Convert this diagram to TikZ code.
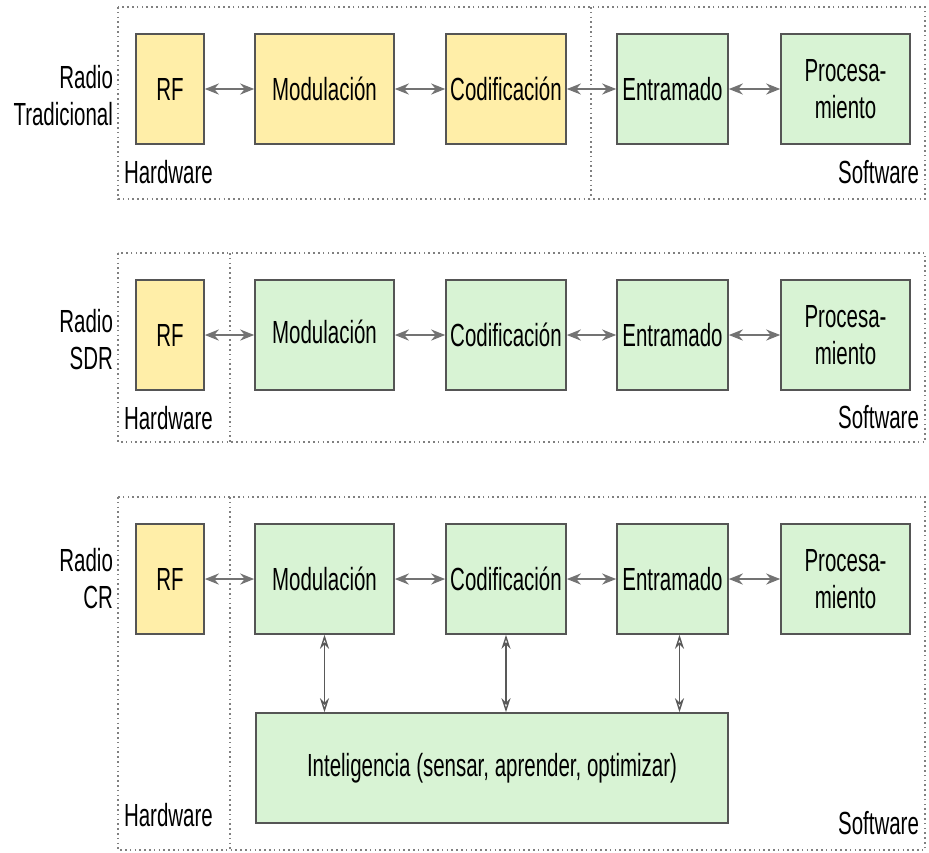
\documentclass[tikz,border=0pt]{standalone}
\usepackage{fontspec}
\setmainfont{Liberation Sans}[FakeStretch=0.64]
\usepackage{xcolor}
\usepackage{tikz}
\usetikzlibrary{arrows.meta}

\definecolor{hwfill}{RGB}{255,238,168}
\definecolor{swfill}{RGB}{216,243,212}
\definecolor{boxline}{RGB}{85,85,85}

\begin{document}
\begin{tikzpicture}[x=0.5pt, y=-0.5pt,
    every node/.style={font=\fontsize{16}{18.5}\selectfont},
    blk/.style={draw=boxline, line width=0.8pt, inner sep=1pt, minimum height=55pt, align=center},
    hw/.style={blk, fill=hwfill},
    sw/.style={blk, fill=swfill},
    frame/.style={draw=gray, line width=0.6pt, dash pattern=on 0.8pt off 1.6pt},
    link/.style={draw=black!55, line width=1.2pt, {Stealth[length=7pt,width=5.5pt,open]}-{Stealth[length=7pt,width=5.5pt,open]}},
    vlink/.style={draw=black!65, line width=0.7pt, {Stealth[length=7pt,width=4.5pt,open]}-{Stealth[length=7pt,width=4.5pt,open]}}]
    \useasboundingbox (0,0) rectangle (929,852);

    % Radio tradicional
    \draw[frame] (118,7) rectangle (925,199);
    \draw[frame] (591,7) -- (591,199);
    \node[anchor=east, align=right] (lab1) at (120,96) {Radio\\Tradicional};
    \node[hw, minimum width=34pt]   (rf1)  at (170,89)   {RF};
    \node[hw, minimum width=69.5pt] (mod1) at (324.5,89) {Modulación};
    \node[hw, minimum width=60pt]   (cod1) at (506,89)   {Codificación};
    \node[sw, minimum width=55.5pt] (ent1) at (672.5,89) {Entramado};
    \node[sw, minimum width=64.5pt] (pro1) at (845.5,89) {Procesa-\\miento};
    \node[anchor=west] (hw1) at (117,172) {Hardware};
    \node[anchor=east] (sw1) at (926,172) {Software};
    \draw[link] (rf1) -- (mod1);
    \draw[link] (mod1) -- (cod1);
    \draw[link] (cod1) -- (ent1);
    \draw[link] (ent1) -- (pro1);

    % Radio SDR
    \draw[frame] (118,253) rectangle (925,442);
    \draw[frame] (230,253) -- (230,442);
    \node[anchor=east, align=right] (lab2) at (120,340) {Radio\\SDR};
    \node[hw, minimum width=34pt]   (rf2)  at (170,335)   {RF};
    \node[sw, minimum width=69.5pt] (mod2) at (324.5,335) {\raisebox{3pt}{Modulación}};
    \node[sw, minimum width=60pt]   (cod2) at (506,335)   {Codificación};
    \node[sw, minimum width=55.5pt] (ent2) at (672.5,335) {Entramado};
    \node[sw, minimum width=64.5pt] (pro2) at (845.5,335) {Procesa-\\miento};
    \node[anchor=west] (hw2) at (117,418) {Hardware};
    \node[anchor=east] (sw2) at (926,417) {Software};
    \draw[link] (rf2) -- (mod2);
    \draw[link] (mod2) -- (cod2);
    \draw[link] (cod2) -- (ent2);
    \draw[link] (ent2) -- (pro2);

    % Radio CR
    \draw[frame] (118,497) rectangle (925,850);
    \draw[frame] (230,497) -- (230,850);
    \node[anchor=east, align=right] (lab3) at (120,579) {Radio\\CR};
    \node[hw, minimum width=34pt]   (rf3)  at (170,579)   {RF};
    \node[sw, minimum width=69.5pt] (mod3) at (324.5,579) {Modulación};
    \node[sw, minimum width=60pt]   (cod3) at (506,579)   {Codificación};
    \node[sw, minimum width=55.5pt] (ent3) at (672.5,579) {Entramado};
    \node[sw, minimum width=64.5pt] (pro3) at (845.5,579) {Procesa-\\miento};
    \node[sw, minimum width=236pt]  (int)  at (492,768)   {Inteligencia (sensar, aprender, optimizar)};
    \node[anchor=west] (hw3) at (117,815) {Hardware};
    \node[anchor=east] (sw3) at (926,823) {Software};
    \draw[link] (rf3) -- (mod3);
    \draw[link] (mod3) -- (cod3);
    \draw[link] (cod3) -- (ent3);
    \draw[link] (ent3) -- (pro3);
    \draw[vlink] (mod3.south) -- (mod3.south |- int.north);
    \draw[vlink] (cod3.south) -- (cod3.south |- int.north);
    \draw[vlink] ([xshift=3.5pt]ent3.south) -- ([xshift=3.5pt]ent3.south |- int.north);
\end{tikzpicture}
\end{document}
